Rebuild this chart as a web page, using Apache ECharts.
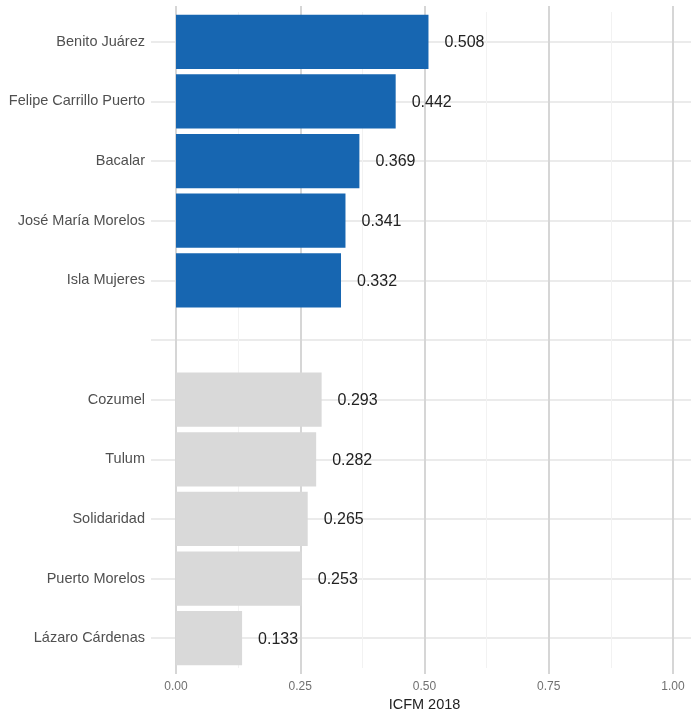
<!DOCTYPE html>
<html>
<head>
<meta charset="utf-8">
<script src="https://cdn.jsdelivr.net/npm/echarts@6/dist/echarts.min.js"></script>
<style>html,body{margin:0;padding:0;background:#fff}#c{width:691px;height:714px}</style>
</head>
<body>
<div id="c"></div>
<script>
const topNames = ["Benito Juárez", "Felipe Carrillo Puerto", "Bacalar", "José María Morelos", "Isla Mujeres"];
const topValues = [0.508, 0.442, 0.369, 0.341, 0.332];
const bottomNames = ["Cozumel", "Tulum", "Solidaridad", "Puerto Morelos", "Lázaro Cárdenas"];
const bottomValues = [0.293, 0.282, 0.265, 0.253, 0.133];
const xTicks = [0, 0.25, 0.5, 0.75, 1];
const axisTitle = "ICFM 2018";

const categories = topNames.concat([""]).concat(bottomNames);
const blueData = topValues.concat(new Array(bottomValues.length + 1).fill(null));
const grayData = new Array(topValues.length + 1).fill(null).concat(bottomValues);

const FONT = "Liberation Sans, Arial, sans-serif";
const majorColor = "#d6d6d6";
const TOP = 12, BOTTOM = 46;

const chart = echarts.init(document.getElementById('c'), null, {renderer: 'canvas'});
const labelCfg = {
  show: true, position: 'right', distance: 16, offset: [0, 1],
  color: '#222', fontSize: 16, fontFamily: FONT,
  formatter: p => p.value == null ? '' : Number(p.value).toFixed(3)
};
chart.setOption({
  animation: false,
  backgroundColor: '#fff',
  grid: [
    {left: 176, right: 18, top: TOP, bottom: BOTTOM, containLabel: false, outerBoundsMode: 'none'},
    {left: 151, right: 0, top: TOP, bottom: BOTTOM, containLabel: false, outerBoundsMode: 'none'}
  ],
  xAxis: [
    {
      gridIndex: 0, type: 'value', position: 'bottom',
      min: xTicks[0], max: xTicks[xTicks.length - 1], interval: 0.25,
      axisLine: {show: false},
      axisTick: {show: true, inside: false, length: 6, lineStyle: {color: majorColor, width: 2}},
      axisLabel: {margin: 13, color: '#707070', fontSize: 12, fontFamily: FONT, formatter: v => v.toFixed(2)},
      splitLine: {show: true, lineStyle: {color: majorColor, width: 2}},
      minorTick: {show: false, splitNumber: 2},
      minorSplitLine: {show: true, lineStyle: {color: '#f2f2f2', width: 1}},
      name: axisTitle, nameLocation: 'middle', nameGap: 29,
      nameTextStyle: {color: '#222', fontSize: 14.5, fontFamily: FONT}
    },
    {
      gridIndex: 0, type: 'value', position: 'top',
      min: xTicks[0], max: xTicks[xTicks.length - 1], interval: 0.25,
      axisLine: {show: false},
      axisTick: {show: true, inside: false, length: 6, lineStyle: {color: majorColor, width: 2}},
      axisLabel: {show: false},
      splitLine: {show: false}
    },
    {
      gridIndex: 1, type: 'value', min: 0, max: 1, show: false,
      splitLine: {show: false}
    }
  ],
  yAxis: [
    {
      gridIndex: 0, type: 'category', data: categories, inverse: true,
      axisLine: {show: false}, axisTick: {show: false}, axisLabel: {show: false},
      splitLine: {show: false}
    },
    {
      gridIndex: 1, type: 'category', data: categories, inverse: true,
      axisLine: {show: false}, axisTick: {show: false},
      axisLabel: {margin: 6, color: '#505050', fontSize: 14.5, fontFamily: FONT},
      splitLine: {show: true, alignWithLabel: true, lineStyle: {color: '#ebebeb', width: 2}}
    }
  ],
  series: [
    {
      type: 'bar', xAxisIndex: 0, yAxisIndex: 0, data: blueData,
      barCategoryGap: '9%', barGap: '-100%',
      itemStyle: {color: '#1766b1'}, label: labelCfg
    },
    {
      type: 'bar', xAxisIndex: 0, yAxisIndex: 0, data: grayData,
      barCategoryGap: '9%', barGap: '-100%',
      itemStyle: {color: '#d9d9d9'}, label: labelCfg
    }
  ]
});
</script>
</body>
</html>
